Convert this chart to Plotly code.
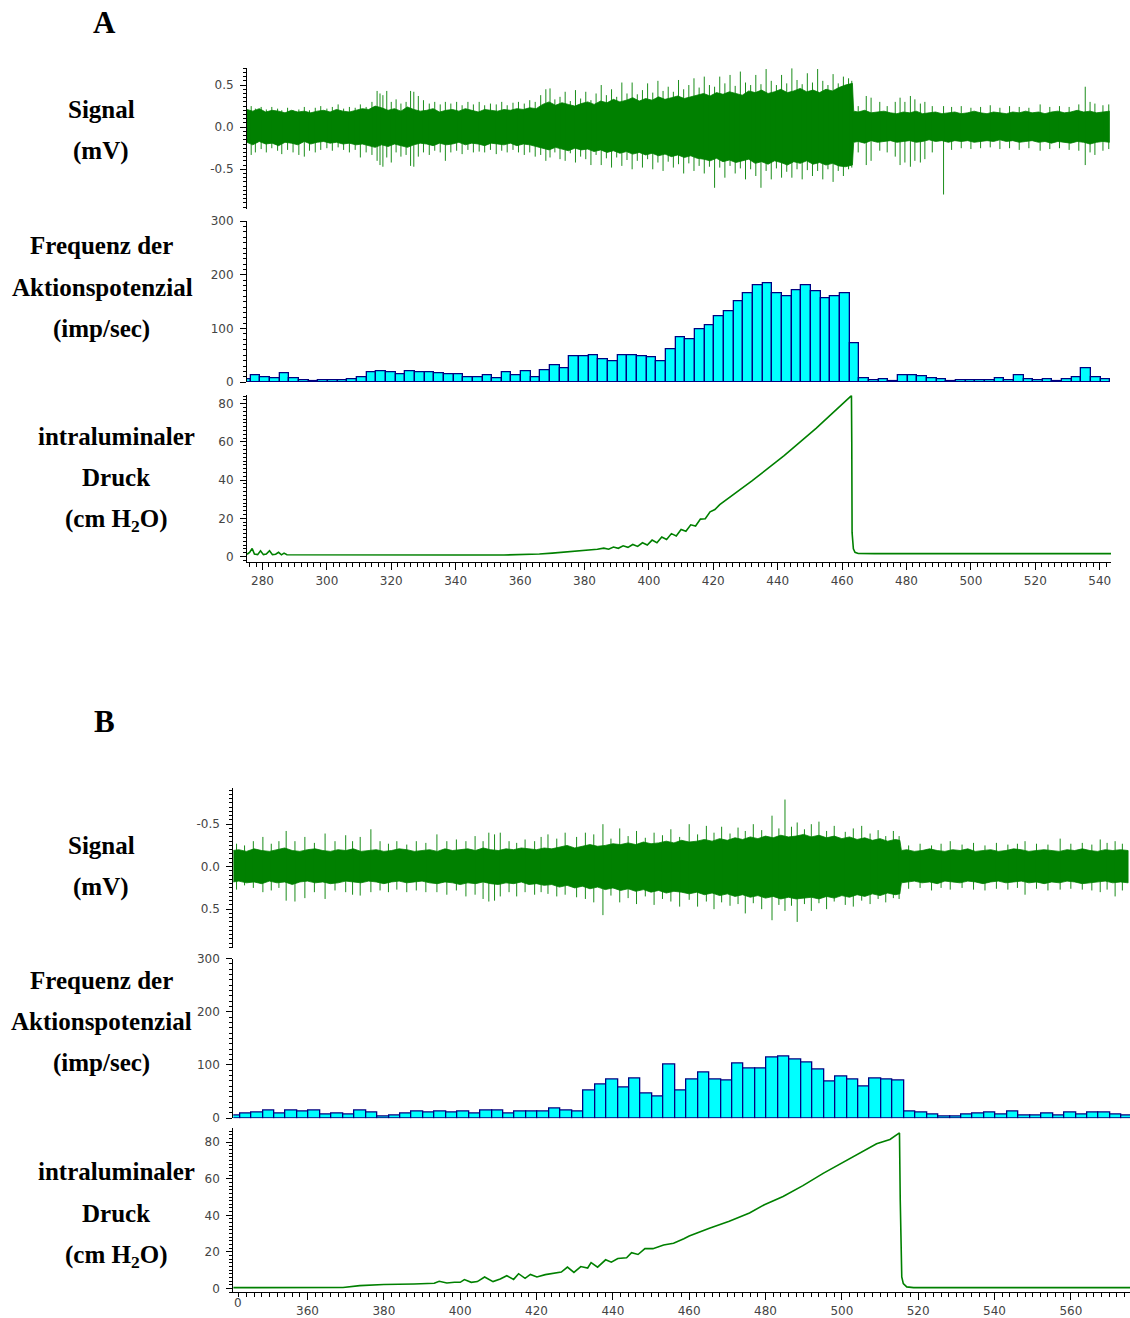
import plotly.graph_objects as go

# ---------------- Panel A ----------------
# signal envelope (mV): upper and lower edge of the dense trace, sampled every 2 s
A_ENV_T = [275.2] + list(range(277, 463, 2)) + [463.2, 463.6] + list(range(465, 544, 2))
A_ENV_UP = [0.21, 0.19, 0.22, 0.18, 0.20, 0.19, 0.17, 0.20, 0.18, 0.19, 0.17, 0.19, 0.20, 0.18,
            0.21, 0.19, 0.18, 0.20, 0.22,
            0.21, 0.25, 0.23, 0.20, 0.22, 0.19, 0.24, 0.21, 0.19, 0.20, 0.22, 0.18, 0.20, 0.21,
            0.19, 0.22, 0.20, 0.18, 0.21, 0.20, 0.19, 0.21, 0.20, 0.22, 0.21, 0.23, 0.22,
            0.27, 0.30, 0.26, 0.29, 0.27, 0.25, 0.28, 0.30, 0.27, 0.31, 0.29, 0.33, 0.30, 0.32,
            0.35, 0.31, 0.34, 0.32, 0.36, 0.33, 0.35, 0.37, 0.34, 0.36, 0.38,
            0.40, 0.37, 0.41, 0.39, 0.42, 0.40, 0.38, 0.43, 0.41, 0.44, 0.40, 0.42, 0.45, 0.41,
            0.43, 0.46, 0.42, 0.44, 0.41, 0.45, 0.43, 0.47, 0.50,
            0.52,
            0.19, 0.18, 0.20, 0.17, 0.18, 0.19, 0.17, 0.16, 0.18, 0.17, 0.19, 0.16, 0.17, 0.18,
            0.16, 0.17, 0.18, 0.16, 0.17, 0.19, 0.17, 0.16, 0.18, 0.17, 0.16, 0.18, 0.17, 0.19,
            0.17, 0.18, 0.16, 0.18, 0.19, 0.17, 0.18, 0.20, 0.18, 0.19, 0.17, 0.18, 0.19]
A_ENV_LO = [-0.18, -0.21, -0.17, -0.20, -0.19, -0.22, -0.18, -0.19, -0.21, -0.17, -0.20, -0.18,
            -0.17, -0.19, -0.18, -0.20, -0.19, -0.21, -0.20,
            -0.22, -0.24, -0.21, -0.23, -0.20, -0.22, -0.24, -0.21, -0.19, -0.20, -0.22, -0.19,
            -0.21, -0.20, -0.18, -0.21, -0.19, -0.20, -0.22, -0.19, -0.20, -0.21, -0.19, -0.22,
            -0.20, -0.21, -0.23,
            -0.25, -0.27, -0.24, -0.26, -0.28, -0.25, -0.27, -0.26, -0.29, -0.27, -0.30, -0.28,
            -0.31, -0.29, -0.32, -0.30, -0.33, -0.31, -0.34, -0.32, -0.35, -0.33, -0.36, -0.34,
            -0.37,
            -0.38, -0.40, -0.37, -0.41, -0.39, -0.42, -0.40, -0.38, -0.43, -0.41, -0.44, -0.40,
            -0.42, -0.45, -0.41, -0.43, -0.40, -0.44, -0.42, -0.45, -0.43, -0.46, -0.47,
            -0.45,
            -0.18, -0.17, -0.19, -0.16, -0.18, -0.17, -0.16, -0.18, -0.17, -0.16, -0.18, -0.17,
            -0.15, -0.17, -0.16, -0.18, -0.16, -0.17, -0.16, -0.18, -0.17, -0.16, -0.17, -0.15,
            -0.17, -0.16, -0.18, -0.17, -0.16, -0.18, -0.17, -0.19, -0.17, -0.18, -0.19, -0.17,
            -0.18, -0.20, -0.18, -0.17, -0.18]

# individual spikes: time, positive peak, negative peak (mV)
A_SPK_T = [276.5, 277.8, 279.6, 281.2, 282.9, 284.7, 286.0, 287.8, 289.5, 291.3, 293.0, 294.6,
           296.4, 298.1, 300.0, 301.7, 303.5, 305.2, 307.0, 308.8, 310.4, 312.2, 314.0, 315.6,
           316.5, 317.4, 318.6, 320.0, 321.5, 323.0, 324.6, 326.0, 327.0, 328.4, 330.0, 331.8,
           333.5, 335.2, 336.8, 338.5, 340.3, 342.0, 343.8, 345.5, 347.3, 349.0, 350.8, 352.6,
           354.3, 356.0, 357.8, 359.5, 361.3, 363.0, 364.7, 366.4, 368.0, 369.3, 370.8, 372.4,
           374.0, 375.6, 377.2, 378.8, 380.4, 382.0, 383.6, 385.2, 386.8, 388.4, 390.0, 391.6,
           393.2, 394.8, 396.4, 398.0, 399.6, 401.2, 402.8, 404.4, 406.0, 407.6, 409.2, 410.8,
           412.4, 414.0, 415.6, 417.2, 418.8, 420.4, 422.0, 423.6, 425.2, 426.8, 428.4, 430.0,
           431.6, 433.2, 434.8, 436.4, 438.0, 439.6, 441.2, 442.8, 444.4, 446.0, 447.6, 449.2,
           450.8, 452.4, 454.0, 455.6, 457.2, 458.8, 460.4, 462.0, 463.0, 465.0, 467.5, 469.0,
           471.7, 474.0, 476.5, 478.0, 479.5, 481.2, 482.6, 484.3, 485.7, 488.0, 491.5, 494.0,
           497.0, 500.0, 503.0, 506.0, 509.0, 512.0, 515.0, 518.0, 521.5, 524.5, 527.5, 530.5,
           533.5, 535.5, 537.0, 538.5, 541.0, 542.8]
A_SPK_UP = [0.25, 0.22, 0.24, 0.21, 0.24, 0.22, 0.20, 0.23, 0.20, 0.21, 0.24, 0.20,
            0.23, 0.25, 0.22, 0.24, 0.27, 0.22, 0.24, 0.23, 0.27, 0.24, 0.30, 0.43,
            0.40, 0.38, 0.43, 0.30, 0.33, 0.28, 0.30, 0.43, 0.42, 0.37, 0.32, 0.28,
            0.30, 0.27, 0.30, 0.28, 0.30, 0.26, 0.30, 0.27, 0.30, 0.26, 0.28, 0.27,
            0.30, 0.26, 0.29, 0.30, 0.28, 0.32, 0.30,
            0.38, 0.45, 0.46, 0.33, 0.36, 0.42, 0.31, 0.44, 0.34, 0.42, 0.32, 0.40,
            0.50, 0.38, 0.45, 0.36, 0.53, 0.40, 0.53, 0.39, 0.44, 0.52, 0.41, 0.55,
            0.43, 0.48, 0.42, 0.56, 0.45, 0.50, 0.58, 0.47, 0.60, 0.50, 0.48, 0.60,
            0.52, 0.62, 0.49, 0.66, 0.53, 0.50, 0.62, 0.51, 0.69, 0.55, 0.50, 0.62,
            0.52, 0.70, 0.56, 0.51, 0.64, 0.53, 0.69, 0.55, 0.50, 0.63, 0.52, 0.60,
            0.58, 0.55,
            0.25, 0.37, 0.35,
            0.30, 0.25, 0.30, 0.35, 0.30, 0.37, 0.33, 0.28, 0.30, 0.25, 0.25, 0.24,
            0.25, 0.23, 0.24, 0.26, 0.23, 0.25, 0.24, 0.23, 0.27, 0.24, 0.25, 0.24,
            0.27, 0.48, 0.30, 0.28, 0.26, 0.27]
A_SPK_LO = [-0.33, -0.30, -0.26, -0.30, -0.25, -0.28, -0.32, -0.27, -0.30, -0.33, -0.35, -0.28,
            -0.30, -0.27, -0.25, -0.28, -0.24, -0.27, -0.30, -0.27, -0.36, -0.30, -0.33, -0.40,
            -0.45, -0.47, -0.36, -0.42, -0.30, -0.35, -0.33, -0.46, -0.47, -0.35, -0.30, -0.33,
            -0.28, -0.30, -0.40, -0.30, -0.28, -0.32, -0.27, -0.30, -0.29, -0.30, -0.27, -0.32,
            -0.28, -0.30, -0.27, -0.30, -0.33, -0.30, -0.35,
            -0.33, -0.40, -0.36, -0.30, -0.38, -0.40, -0.31, -0.42, -0.35, -0.38, -0.45, -0.33,
            -0.45, -0.37, -0.48, -0.36, -0.46, -0.39, -0.50, -0.40, -0.48, -0.38, -0.50, -0.42,
            -0.52, -0.41, -0.48, -0.44, -0.55, -0.43, -0.52, -0.46, -0.55, -0.47, -0.72, -0.48,
            -0.60, -0.46, -0.55, -0.49, -0.62, -0.50, -0.58, -0.72, -0.52, -0.62, -0.49, -0.60,
            -0.53, -0.60, -0.50, -0.62, -0.51, -0.58, -0.52, -0.62, -0.50, -0.65, -0.52, -0.58,
            -0.50, -0.48,
            -0.30, -0.45, -0.40,
            -0.28, -0.30, -0.35, -0.45, -0.42, -0.47, -0.40, -0.42, -0.38, -0.30, -0.80, -0.27,
            -0.25, -0.26, -0.25, -0.24, -0.26, -0.25, -0.27, -0.25, -0.28, -0.26, -0.25, -0.27,
            -0.28, -0.45, -0.30, -0.33, -0.28, -0.26]

# action potential frequency (imp/sec), 3 s bins
A_BIN_START = 273.33
A_FREQ = [6, 12, 9, 7, 16, 7, 3, 1, 3, 4, 4, 6, 10, 19, 21, 19, 14, 21, 18, 18, 16, 14, 14, 10,
          9, 12, 8, 18, 12, 20, 9, 23, 31, 26, 48, 48, 50, 42, 39, 50, 50, 48, 46, 39, 61, 83,
          80, 99, 107, 123, 133, 150, 166, 180, 184, 166, 160, 171, 180, 169, 156, 160, 166, 73,
          7, 4, 6, 2, 13, 13, 11, 7, 6, 2, 4, 4, 4, 4, 7, 4, 13, 6, 4, 6, 2, 6, 9, 25, 9, 6]

# intraluminal pressure (cm H2O)
A_P_T = [275.2, 276.0, 276.8, 277.5, 278.5, 279.4, 280.3, 281.2, 282.2, 283.1, 284.1, 285.0,
         285.9, 286.7, 287.6, 300, 320, 340, 355, 362, 366, 370, 374, 378, 381, 384,
         386, 387.5, 389, 390.5, 392, 393.5, 395, 396.5, 398, 399.5, 401, 402.5, 404, 405.5,
         407, 408.5, 410, 411.5, 413, 414.5, 416, 417.5, 419, 420.5,
         422, 424, 426, 428, 430, 432, 434, 436, 438, 440, 442, 444, 446, 448, 450, 452, 454,
         456, 458, 460, 461.5, 462.6, 462.9, 463.0, 463.1, 463.5, 464.0, 465.0, 470, 490, 520,
         543.5]
A_P_V = [1.2, 2.2, 4.2, 1.3, 1.0, 3.0, 1.0, 1.3, 3.0, 1.0, 1.2, 2.2,
         0.9, 1.8, 0.9, 0.8, 0.9, 0.8, 0.8, 0.9, 1.3, 1.8, 2.3, 2.8, 3.3, 3.8,
         4.4, 3.8, 5.0, 4.3, 5.6, 4.8, 6.3, 5.3, 7.2, 6.0, 8.6, 7.2, 10.2, 8.9,
         12.0, 10.8, 14.2, 13.2, 16.6, 16.0, 19.6, 19.8, 23.4, 24.6,
         27.2, 29.6, 32.0, 34.5, 37.0, 39.6, 42.2, 44.8, 47.4, 50.1, 52.9, 55.7, 58.5, 61.4,
         64.3, 67.3, 70.4, 73.6, 76.8, 80.1, 82.5, 84.3, 84.3, 60.0, 12.5, 4.0, 2.2, 1.6, 1.5,
         1.5, 1.5, 1.5]

# ---------------- Panel B ----------------
B_ENV_T = [340.5] + list(range(342, 515, 2)) + [515.2, 515.6] + list(range(517, 576, 2))
B_ENV_POS = [0.18,
             0.17, 0.19, 0.18, 0.20, 0.17, 0.19, 0.18, 0.21, 0.18, 0.17, 0.19, 0.18, 0.20, 0.19,
             0.17, 0.18, 0.19, 0.17, 0.18, 0.20, 0.18, 0.17, 0.19, 0.18, 0.17, 0.19, 0.20, 0.18,
             0.19, 0.21, 0.19, 0.20, 0.18, 0.20, 0.21, 0.19, 0.20, 0.18, 0.21, 0.20, 0.22, 0.21,
             0.24, 0.22, 0.25, 0.23, 0.26, 0.24, 0.27, 0.25, 0.28, 0.26, 0.29, 0.27, 0.30, 0.28,
             0.31, 0.29, 0.30, 0.32, 0.30, 0.33, 0.31, 0.34, 0.32, 0.35, 0.33, 0.36, 0.34, 0.37,
             0.35, 0.38, 0.36, 0.38, 0.37, 0.36, 0.38, 0.35, 0.37, 0.34, 0.36, 0.33, 0.35, 0.32,
             0.34, 0.31, 0.33,
             0.32,
             0.19, 0.18, 0.17, 0.19, 0.18, 0.20, 0.17, 0.18, 0.19, 0.17, 0.18, 0.20, 0.18, 0.17,
             0.19, 0.18, 0.17, 0.19, 0.18, 0.20, 0.18, 0.19, 0.17, 0.18, 0.20, 0.19, 0.18, 0.17,
             0.19, 0.18, 0.19]
B_ENV_NEG = [-0.19,
             -0.20, -0.18, -0.21, -0.19, -0.18, -0.20, -0.22, -0.19, -0.18, -0.20, -0.21, -0.19,
             -0.18, -0.20, -0.19, -0.21, -0.18, -0.19, -0.20, -0.18, -0.19, -0.21, -0.20, -0.18,
             -0.19, -0.20, -0.18, -0.21, -0.19, -0.20, -0.21, -0.19, -0.22, -0.20, -0.19, -0.21,
             -0.20, -0.22, -0.21, -0.20, -0.22, -0.21,
             -0.23, -0.25, -0.22, -0.24, -0.26, -0.24, -0.25, -0.27, -0.26, -0.28, -0.26, -0.29,
             -0.27, -0.28, -0.30, -0.28, -0.31, -0.29, -0.30, -0.32, -0.30, -0.33, -0.31, -0.34,
             -0.32, -0.35, -0.33, -0.36, -0.34, -0.37, -0.35, -0.36, -0.38, -0.35, -0.37, -0.34,
             -0.36, -0.33, -0.35, -0.32, -0.34, -0.31, -0.33, -0.30, -0.32,
             -0.31,
             -0.19, -0.20, -0.18, -0.19, -0.21, -0.19, -0.18, -0.20, -0.19, -0.21, -0.18, -0.19,
             -0.20, -0.18, -0.19, -0.21, -0.20, -0.18, -0.19, -0.20, -0.19, -0.18, -0.20, -0.19,
             -0.21, -0.19, -0.18, -0.20, -0.19, -0.20, -0.19]

B_SPK_T = [341.4, 343.5, 345.8, 348.3, 350.5, 352.5, 354.4, 356.7, 359.3, 361.8, 364.6, 367.2,
           370.0, 371.8, 373.8, 376.6, 379.0, 381.2, 383.4, 386.0, 388.5, 391.0, 393.9, 396.5,
           399.0, 401.5, 403.9, 406.0, 407.5, 409.0, 410.5, 412.8, 414.8, 417.0, 419.5, 421.2,
           423.0, 425.3, 427.5, 430.5, 432.8, 435.0, 437.4, 439.5, 441.8, 444.0, 446.2, 448.5,
           450.8, 453.0, 455.2, 457.5, 460.0, 462.2, 464.5, 466.5, 468.5, 470.7, 472.8, 474.7,
           476.8, 479.0, 481.7, 483.5, 485.1, 486.8, 488.3, 490.2, 492.0, 494.0, 496.0, 498.0,
           500.9, 503.0, 505.2, 507.4, 509.5, 511.5, 513.5, 515.0, 517.5, 520.5, 523.5, 526.0,
           528.4, 531.5, 534.5, 537.5, 540.5, 543.5, 546.0, 548.0, 551.0, 554.0, 557.2, 560.0,
           563.0, 565.5, 567.7, 569.5, 571.6, 573.5]
B_SPK_NEG = [-0.27, -0.25, -0.30, -0.35, -0.27, -0.30, -0.42, -0.30, -0.35, -0.28, -0.39, -0.30,
             -0.37, -0.30, -0.35, -0.44, -0.30, -0.27, -0.30, -0.26, -0.30, -0.28, -0.38, -0.30,
             -0.32, -0.30, -0.36, -0.30, -0.40, -0.38, -0.40, -0.30, -0.28, -0.32, -0.30, -0.35,
             -0.38, -0.33, -0.40, -0.35, -0.40, -0.38, -0.50, -0.33, -0.45, -0.36, -0.42, -0.34,
             -0.40, -0.37, -0.44, -0.35, -0.50, -0.38, -0.48, -0.40, -0.47, -0.39, -0.46, -0.42,
             -0.50, -0.43, -0.60, -0.45, -0.79, -0.47, -0.52, -0.44, -0.50, -0.53, -0.42, -0.48,
             -0.41, -0.45, -0.48, -0.39, -0.43, -0.36, -0.42, -0.36, -0.25, -0.27, -0.25, -0.27,
             -0.30, -0.26, -0.28, -0.25, -0.28, -0.26, -0.27, -0.30, -0.27, -0.26, -0.33, -0.27,
             -0.28, -0.26, -0.32, -0.28, -0.30, -0.27]
B_SPK_POS = [0.27, 0.22, 0.25, 0.30, 0.28, 0.25, 0.40, 0.41, 0.37, 0.30, 0.38, 0.28,
             0.30, 0.33, 0.34, 0.30, 0.28, 0.30, 0.27, 0.30, 0.28, 0.30, 0.30, 0.33,
             0.28, 0.35, 0.33, 0.38, 0.41, 0.40, 0.35, 0.30, 0.35, 0.30, 0.33, 0.30,
             0.32, 0.35, 0.33, 0.36, 0.38, 0.42, 0.57, 0.34, 0.42, 0.37, 0.44, 0.35,
             0.45, 0.38, 0.41, 0.47, 0.39, 0.47, 0.41, 0.50, 0.42, 0.46, 0.44, 0.55,
             0.43, 0.50, 0.63, 0.45, 0.52, 0.46, 0.65, 0.44, 0.52, 0.43, 0.50, 0.41,
             0.45, 0.47, 0.40, 0.44, 0.38, 0.42, 0.37, 0.38, 0.26, 0.25, 0.28, 0.25,
             0.27, 0.25, 0.27, 0.28, 0.26, 0.27, 0.25, 0.33, 0.26, 0.28, 0.27, 0.26,
             0.27, 0.28, 0.30, 0.27, 0.35, 0.28]

B_BIN_START = 339.3
B_FREQ = [4, 8, 10, 15, 8, 15, 12, 15, 6, 8, 6, 14, 10, 3, 4, 8, 12, 10, 12, 10, 12, 8, 14, 15,
          9, 12, 12, 12, 19, 15, 12, 51, 64, 72, 57, 75, 47, 41, 100, 52, 72, 86, 72, 70, 102,
          94, 94, 114, 115, 110, 105, 91, 69, 78, 73, 59, 75, 72, 70, 12, 10, 7, 3, 3, 6, 9, 10,
          6, 12, 4, 4, 9, 4, 10, 7, 10, 10, 7, 4]

B_P_T = [340.5, 355, 369.3, 373.7, 380, 387.9, 393.2, 394.5, 396.5, 398.5, 400.0, 401.1, 402.9,
         404.5, 406.4, 408.6, 410.5, 412.2, 414.0, 415.3, 417.0, 418.4, 420.1, 422.3, 425.0,
         426.5, 428.1, 429.8, 431.6, 433.4, 434.3, 436.0, 438.1, 439.6, 441.3, 443.6, 444.9,
         446.6, 448.4, 450.5, 453.3, 455.9, 458.6, 460.0, 465.3, 470.5, 475.8, 479.7, 484.6,
         489.8, 495.1, 499.8, 503.9, 509.1, 512.6, 515.1, 515.3, 515.5, 515.7, 516.1, 517.0,
         518.8, 525, 545, 575.5]
B_P_V = [0.5, 0.5, 0.6, 1.6, 2.2, 2.5, 2.9, 4.0, 3.0, 3.4, 3.4, 4.9, 3.4,
         3.8, 6.3, 3.8, 5.2, 7.0, 5.0, 8.1, 5.6, 7.7, 6.3, 7.6, 8.5,
         9.0, 11.7, 8.8, 12.0, 11.2, 14.2, 11.7, 15.7, 14.4, 16.4, 16.8, 19.6,
         18.6, 21.8, 21.8, 23.8, 24.7, 27.2, 28.7, 32.9, 36.8, 41.3, 45.8, 50.3,
         56.2, 62.9, 68.3, 72.8, 79.1, 81.4, 85.0, 48.5, 13.5, 6.3, 2.7, 0.9,
         0.5, 0.5, 0.5, 0.5]

BIN_W = 3.0
X_TICKS_A = [280, 300, 320, 340, 360, 380, 400, 420, 440, 460, 480, 500, 520, 540]
X_TICKS_B = [360, 380, 400, 420, 440, 460, 480, 500, 520, 540, 560]

# ---------------- layout geometry (pixels) ----------------
W, H = 1130, 1318
GREEN = "#008000"
TICK_FONT = dict(family="DejaVu Sans", size=12, color="#444444")


def xdom(left, right):
    return [left / W, right / W]


def ydom(top, bottom):
    return [1 - bottom / H, 1 - top / H]


def yax(dom, rng, tickvals, ticktext, minor_dtick):
    return dict(domain=dom, range=rng, showline=True, linecolor="black", linewidth=1,
                ticks="outside", ticklen=6, tickcolor="black", tickwidth=1,
                ticklabelstandoff=4,
                tickvals=tickvals, ticktext=ticktext, tickfont=TICK_FONT,
                minor=dict(ticks="outside", ticklen=3, tickcolor="black", dtick=minor_dtick,
                           tick0=0, showgrid=False),
                showgrid=False, zeroline=False, fixedrange=True)


def xax_hidden(dom, rng):
    return dict(domain=dom, range=rng, visible=False, showgrid=False, zeroline=False)


def xax_shown(dom, rng, ticks_list, anchor):
    return dict(domain=dom, range=rng, anchor=anchor, showline=True, linecolor="black",
                linewidth=1, ticks="outside", ticklen=7, tickcolor="black",
                tickvals=ticks_list, ticktext=[str(v) for v in ticks_list], tickfont=TICK_FONT,
                minor=dict(ticks="outside", ticklen=4, tickcolor="black", dtick=2, tick0=0,
                           showgrid=False),
                showgrid=False, zeroline=False)


def envelope_trace(t, up, lo, xa, ya):
    return go.Scatter(x=list(t) + list(t[::-1]), y=list(up) + list(lo[::-1]), fill="toself",
                      fillcolor=GREEN, line=dict(color=GREEN, width=0.8), mode="lines",
                      xaxis=xa, yaxis=ya, hoverinfo="skip", showlegend=False)


def spike_trace(t, hi, lo, xa, ya):
    xs, ys = [], []
    for ti, h, l in zip(t, hi, lo):
        xs += [ti, ti, None]
        ys += [l, h, None]
    return go.Scatter(x=xs, y=ys, mode="lines", line=dict(color=GREEN, width=0.9),
                      xaxis=xa, yaxis=ya, hoverinfo="skip", showlegend=False)


def freq_trace(start, vals, xa, ya):
    centers = [start + BIN_W * i + BIN_W / 2 for i in range(len(vals))]
    return go.Bar(x=centers, y=vals, width=[BIN_W] * len(vals),
                  marker=dict(color="#00FFFF", line=dict(color="#000080", width=1.3)),
                  xaxis=xa, yaxis=ya, hoverinfo="skip", showlegend=False)


def pressure_trace(t, v, xa, ya):
    return go.Scatter(x=t, y=v, mode="lines", line=dict(color=GREEN, width=1.6),
                      xaxis=xa, yaxis=ya, hoverinfo="skip", showlegend=False)


fig = go.Figure()

# panel A traces
fig.add_trace(envelope_trace(A_ENV_T, A_ENV_UP, A_ENV_LO, "x", "y"))
fig.add_trace(spike_trace(A_SPK_T, A_SPK_UP, A_SPK_LO, "x", "y"))
fig.add_trace(freq_trace(A_BIN_START, A_FREQ, "x2", "y2"))
fig.add_trace(pressure_trace(A_P_T, A_P_V, "x3", "y3"))

# panel B traces
fig.add_trace(envelope_trace(B_ENV_T, B_ENV_POS, B_ENV_NEG, "x4", "y4"))
fig.add_trace(spike_trace(B_SPK_T, B_SPK_POS, B_SPK_NEG, "x4", "y4"))
fig.add_trace(freq_trace(B_BIN_START, B_FREQ, "x5", "y5"))
fig.add_trace(pressure_trace(B_P_T, B_P_V, "x6", "y6"))

XA_DOM = xdom(247, 1111)
XA_RNG = [275.2, 543.5]
XB_DOM = xdom(233.3, 1130)
XB_RNG = [340.55, 575.5]

fig.update_layout(
    width=W, height=H, margin=dict(l=0, r=0, t=0, b=0),
    paper_bgcolor="white", plot_bgcolor="white", bargap=0, showlegend=False,
    xaxis=xax_hidden(XA_DOM, XA_RNG),
    xaxis2=xax_hidden(XA_DOM, XA_RNG),
    xaxis3=xax_shown(XA_DOM, XA_RNG, X_TICKS_A, "y3"),
    xaxis4=xax_hidden(XB_DOM, XB_RNG),
    xaxis5=xax_hidden(XB_DOM, XB_RNG),
    xaxis6=xax_shown(XB_DOM, XB_RNG, X_TICKS_B, "y6"),
    yaxis=dict(yax(ydom(62, 205), [-0.976, 0.70], [-0.5, 0, 0.5], ["-0.5", "0.0", "0.5"], 0.05),
               anchor="x"),
    yaxis2=dict(yax(ydom(217, 380), [0, 300], [0, 100, 200, 300], ["0", "100", "200", "300"], 10),
                anchor="x2"),
    yaxis3=dict(yax(ydom(393.3, 562.7), [-3.1, 84.5], [0, 20, 40, 60, 80],
                    ["0", "20", "40", "60", "80"], 2), anchor="x3"),
    yaxis4=dict(yax(ydom(791.7, 953.3), [0.957, -0.92], [-0.5, 0, 0.5], ["-0.5", "0.0", "0.5"],
                    0.05), anchor="x4"),
    yaxis5=dict(yax(ydom(964, 1125.7), [0, 300], [0, 100, 200, 300], ["0", "100", "200", "300"],
                    10), anchor="x5"),
    yaxis6=dict(yax(ydom(1136, 1302), [-2.0, 87.5], [0, 20, 40, 60, 80],
                    ["0", "20", "40", "60", "80"], 2), anchor="x6"),
)

# row labels and panel letters
labels = [
    ("<b>A</b>", 104, 16, 31),
    ("<b>Signal</b>", 101, 104, 25), ("<b>(mV)</b>", 101, 146, 25),
    ("<b>Frequenz der</b>", 101, 242, 25), ("<b>Aktionspotenzial</b>", 102, 284, 25),
    ("<b>(imp/sec)</b>", 101, 326, 25),
    ("<b>intraluminaler</b>", 116, 435, 25), ("<b>Druck</b>", 116, 477, 25),
    ("<b>(cm H<sub>2</sub>O)</b>", 116, 520, 25),
    ("<b>B</b>", 104, 724, 31),
    ("<b>Signal</b>", 101, 849, 25), ("<b>(mV)</b>", 101, 891, 25),
    ("<b>Frequenz der</b>", 101, 986, 25), ("<b>Aktionspotenzial</b>", 101, 1028, 25),
    ("<b>(imp/sec)</b>", 101, 1070, 25),
    ("<b>intraluminaler</b>", 116, 1180, 25), ("<b>Druck</b>", 116, 1222, 25),
    ("<b>(cm H<sub>2</sub>O)</b>", 116, 1266, 25),
]
for text, px, py, size in labels:
    fig.add_annotation(text=text, x=px / W, y=1 - py / H, xref="paper", yref="paper",
                       xanchor="center", yanchor="middle", showarrow=False,
                       font=dict(family="Liberation Serif", size=size, color="black"))

# the 340 tick label of panel B is cut by the left edge of the plot; only its last digit shows
fig.add_annotation(text="0", x=238 / W, y=1 - 1304 / H, xref="paper", yref="paper",
                   xanchor="center", yanchor="top", showarrow=False, font=TICK_FONT)

fig.write_html("out.html")
